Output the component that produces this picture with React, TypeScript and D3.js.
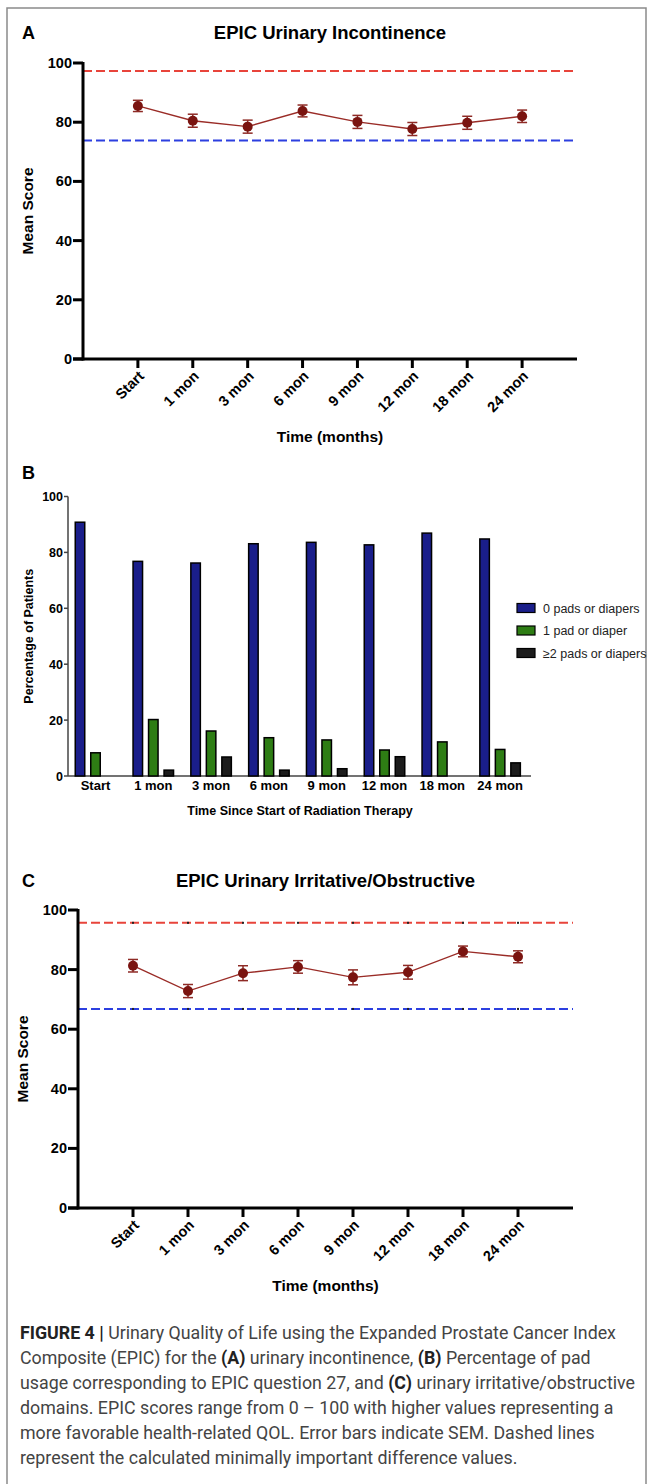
import React from 'react';
import * as d3 from 'd3';

// time points shared by all three panels
const months = ['Start', '1 mon', '3 mon', '6 mon', '9 mon', '12 mon', '18 mon', '24 mon'];
const scoreTicks = [0, 20, 40, 60, 80, 100];

// panel A: EPIC urinary incontinence
const incontinenceMean = [85.5, 80.5, 78.5, 83.8, 80.1, 77.7, 79.8, 82.0];
const incontinenceSem = [1.9, 2.2, 2.2, 2.0, 2.2, 2.2, 2.2, 2.1];
const incontinenceMid = [97.3, 73.8];

// panel B: pad usage (% of patients)
const padGroups = ['0 pads or diapers', '1 pad or diaper', '≥2 pads or diapers'];
const pads0 = [90.8, 76.8, 76.2, 83.1, 83.6, 82.7, 86.9, 84.8];
const pads1 = [8.3, 20.2, 16.1, 13.7, 12.9, 9.3, 12.2, 9.5];
const pads2 = [0, 2.1, 6.8, 2.1, 2.6, 6.9, 0, 4.7];
const padColors = ['#1a1e8a', '#2e7d14', '#1c1c1c'];

// panel C: EPIC urinary irritative/obstructive
const irritativeMean = [81.3, 72.8, 78.8, 80.9, 77.4, 79.1, 86.1, 84.3];
const irritativeSem = [2.1, 2.2, 2.5, 2.1, 2.5, 2.3, 1.8, 2.0];
const irritativeMid = [95.7, 66.8];

const captionLines = [
  [['FIGURE 4 | ', true], ['Urinary Quality of Life using the Expanded Prostate Cancer Index', false]],
  [['Composite (EPIC) for the ', false], ['(A)', true], [' urinary incontinence, ', false], ['(B)', true], [' Percentage of pad', false]],
  [['usage corresponding to EPIC question 27, and ', false], ['(C)', true], [' urinary irritative/obstructive', false]],
  [['domains. EPIC scores range from 0 – 100 with higher values representing a', false]],
  [['more favorable health-related QOL. Error bars indicate SEM. Dashed lines', false]],
  [['represent the calculated minimally important difference values.', false]],
];

const FONT = 'Liberation Sans, Arial, sans-serif';
const RED = '#e8443b';
const BLUE = '#2c3fe0';

type LineProps = {
  letter: string;
  title: string;
  top: number;
  left: number;
  right: number;
  y0: number;
  y100: number;
  mean: number[];
  sem: number[];
  mid: number[];
  dots?: boolean;
};

const LinePanel = ({ letter, title, top, left, right, y0, y100, mean, sem, mid, dots }: LineProps) => {
  const x = d3.scalePoint().domain(months).range([left, right]).padding(1);
  const y = d3.scaleLinear().domain([0, 100]).range([y0, y100]);
  const line = d3
    .line<number>()
    .x((d, i) => x(months[i]) as number)
    .y(d => y(d));
  const cx = (left + right) / 2;

  return (
    <g fontFamily={FONT} fontWeight="bold" fill="#000">
      <text x={22} y={top} fontSize={18}>{letter}</text>
      <text x={cx} y={top} fontSize={18.5} textAnchor="middle">{title}</text>

      {mid.map((v, i) => (
        <g key={i}>
          <line x1={left} x2={right} y1={y(v)} y2={y(v)}
            stroke={i === 0 ? RED : BLUE} strokeWidth={2} strokeDasharray="9,4" />
          {dots && months.map(m => (
            <rect key={m} x={(x(m) as number) - 1} y={y(v) - 1} width={2} height={2} fill="#222" />
          ))}
        </g>
      ))}

      <line x1={left} x2={left} y1={y100 - 1} y2={y0 + 1.5} stroke="#000" strokeWidth={3} />
      <line x1={left - 10} x2={right} y1={y0} y2={y0} stroke="#000" strokeWidth={3} />
      {scoreTicks.map(t => (
        <g key={t}>
          <line x1={left - 10} x2={left} y1={y(t)} y2={y(t)} stroke="#000" strokeWidth={3} />
          <text x={left - 11} y={y(t) + 5} fontSize={14.5} textAnchor="end">{t}</text>
        </g>
      ))}
      {months.map(m => (
        <g key={m}>
          <line x1={x(m)} x2={x(m)} y1={y0} y2={y0 + 9} stroke="#000" strokeWidth={3} />
          <text transform={`translate(${(x(m) as number) + 7},${y0 + 18}) rotate(-45)`}
            fontSize={14.5} textAnchor="end">{m}</text>
        </g>
      ))}
      <text x={cx} y={y0 + 83} fontSize={15.5} textAnchor="middle">Time (months)</text>
      <text transform={`translate(${left - 50},${(y0 + y100) / 2}) rotate(-90)`}
        fontSize={15.5} textAnchor="middle">Mean Score</text>

      <path d={line(mean) ?? ''} fill="none" stroke="#9a2c27" strokeWidth={1.4} />
      {mean.map((v, i) => {
        const px = x(months[i]) as number;
        return (
          <g key={i} stroke="#8e2a25" strokeWidth={1.5}>
            <line x1={px} x2={px} y1={y(v - sem[i])} y2={y(v + sem[i])} />
            <line x1={px - 5} x2={px + 5} y1={y(v - sem[i])} y2={y(v - sem[i])} />
            <line x1={px - 5} x2={px + 5} y1={y(v + sem[i])} y2={y(v + sem[i])} />
            <circle cx={px} cy={y(v)} r={5} fill="#7a1410" stroke="none" />
          </g>
        );
      })}
    </g>
  );
};

const BarPanel = () => {
  const left = 68;
  const y0 = 776;
  const y100 = 496.5;
  const x0 = d3.scaleBand().domain(months).range([66.6, 529]);
  const x1 = d3.scaleBand().domain(padGroups).range([-20.25, 20.25]).paddingInner(0.387);
  const y = d3.scaleLinear().domain([0, 100]).range([y0, y100]);
  const series = [pads0, pads1, pads2];

  return (
    <g fontFamily={FONT} fill="#000">
      <text x={22} y={479} fontSize={18} fontWeight="bold">B</text>
      <line x1={left} x2={left} y1={y100} y2={y0} stroke="#444" strokeWidth={1.5} />
      <line x1={left} x2={531} y1={y0} y2={y0} stroke="#444" strokeWidth={1.5} />
      {scoreTicks.map(t => (
        <g key={t}>
          <line x1={left - 4} x2={left} y1={y(t)} y2={y(t)} stroke="#444" strokeWidth={1.5} />
          <text x={left - 5} y={y(t) + 4.5} fontSize={12.5} fontWeight="bold" textAnchor="end">{t}</text>
        </g>
      ))}
      {months.map((m, i) => {
        const c = (x0(m) as number) + x0.bandwidth() / 2;
        return (
          <g key={m}>
            {series.map((s, k) =>
              s[i] > 0 ? (
                <rect key={k} x={c + (x1(padGroups[k]) as number)} y={y(s[i])}
                  width={x1.bandwidth()} height={y0 - y(s[i])}
                  fill={padColors[k]} stroke="#000" strokeWidth={1.5} />
              ) : null
            )}
            <text x={c} y={790} fontSize={13} fontWeight="bold" textAnchor="middle">{m}</text>
          </g>
        );
      })}
      <text x={300} y={815} fontSize={12.5} fontWeight="bold" textAnchor="middle">
        Time Since Start of Radiation Therapy
      </text>
      <text transform={`translate(33,${(y0 + y100) / 2}) rotate(-90)`}
        fontSize={12.5} fontWeight="bold" textAnchor="middle">Percentage of Patients</text>

      {padGroups.map((g, k) => (
        <g key={g} transform={`translate(517,${608 + k * 22.5})`}>
          <rect x={0} y={-4.5} width={18} height={9} fill={padColors[k]} stroke="#000" strokeWidth={1.2} />
          <text x={26} y={4.5} fontSize={12.5} fill="#222">{g}</text>
        </g>
      ))}
    </g>
  );
};

export default function App() {
  return (
    <svg width={652} height={1484} style={{ position: 'absolute', left: 0, top: 0 }}>
      <rect x={0} y={0} width={652} height={1484} fill="#fff" />
      <rect x={7} y={8} width={639} height={1500} fill="none" stroke="#8a8a8a" strokeWidth={1.5} />
      <LinePanel letter="A" title="EPIC Urinary Incontinence" top={39} left={83} right={577}
        y0={359} y100={63} mean={incontinenceMean} sem={incontinenceSem} mid={incontinenceMid} />
      <BarPanel />
      <LinePanel letter="C" title="EPIC Urinary Irritative/Obstructive" top={887} left={78} right={573}
        y0={1208} y100={910} mean={irritativeMean} sem={irritativeSem} mid={irritativeMid} dots />
      <g fontFamily="Roboto, Arial, sans-serif" fontSize={17.8} fill="#333">
        {captionLines.map((ln, i) => (
          <text key={i} x={20} y={1339 + i * 25}>
            {ln.map(([s, b], j) => (
              <tspan key={j} fontWeight={b ? 'bold' : 'normal'} fill={b ? '#222' : '#444'}>{s as string}</tspan>
            ))}
          </text>
        ))}
      </g>
    </svg>
  );
}
